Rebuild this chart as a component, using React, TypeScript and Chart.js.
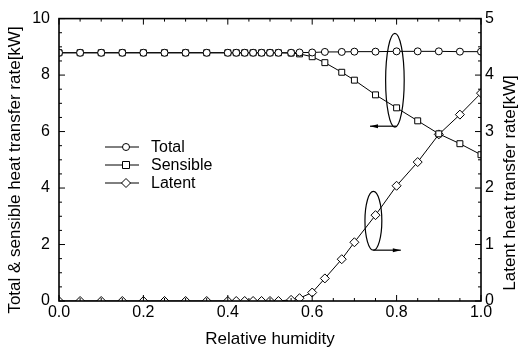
import React, { useEffect, useRef } from "react";
import { Chart, registerables } from "chart.js";

Chart.register(...registerables);

const humidity = [0, 0.05, 0.1, 0.15, 0.2, 0.25, 0.3, 0.35, 0.4, 0.42, 0.44, 0.46, 0.48, 0.5, 0.52, 0.55, 0.57, 0.6, 0.63, 0.67, 0.7, 0.75, 0.8, 0.85, 0.9, 0.95, 1.0];
const totalRate = [8.79, 8.79, 8.79, 8.79, 8.79, 8.79, 8.79, 8.79, 8.79, 8.79, 8.79, 8.79, 8.79, 8.79, 8.79, 8.79, 8.8, 8.8, 8.82, 8.82, 8.83, 8.83, 8.84, 8.84, 8.84, 8.83, 8.83];
const sensibleRate = [8.79, 8.79, 8.79, 8.79, 8.79, 8.79, 8.79, 8.79, 8.79, 8.79, 8.79, 8.79, 8.79, 8.79, 8.79, 8.78, 8.75, 8.65, 8.44, 8.1, 7.82, 7.3, 6.84, 6.38, 5.92, 5.57, 5.18];
const latentRate = [0, 0, 0, 0, 0, 0, 0, 0, 0, 0, 0, 0, 0, 0, 0, 0.02, 0.05, 0.15, 0.4, 0.74, 1.04, 1.52, 2.04, 2.46, 2.95, 3.3, 3.68];

const xTicks = [0, 0.2, 0.4, 0.6, 0.8, 1.0];
const leftTicks = [0, 2, 4, 6, 8, 10];
const rightTicks = [0, 1, 2, 3, 4, 5];
const seriesNames = ["Total", "Sensible", "Latent"];
const markerShapes = ["circle", "rect", "rectRot"];
const xTitle = "Relative humidity";
const leftTitle = "Total & sensible heat transfer rate[kW]";
const rightTitle = "Latent heat transfer rate[kW]";

const FONT = "'Liberation Sans', Arial, Helvetica, sans-serif";

function drawMarker(ctx: CanvasRenderingContext2D, shape: string, x: number, y: number) {
  ctx.save();
  ctx.fillStyle = "#fff";
  ctx.strokeStyle = "#000";
  ctx.lineWidth = 1;
  ctx.beginPath();
  if (shape === "circle") ctx.arc(x, y, 3.5, 0, Math.PI * 2);
  else if (shape === "rect") ctx.rect(x - 3.5, y - 3.5, 7, 7);
  else {
    ctx.moveTo(x, y - 4.5);
    ctx.lineTo(x + 4.5, y);
    ctx.lineTo(x, y + 4.5);
    ctx.lineTo(x - 4.5, y);
    ctx.closePath();
  }
  ctx.fill();
  ctx.stroke();
  ctx.restore();
}

const framePlugin = {
  id: "frameDecor",
  afterDraw(chart: any) {
    const ctx: CanvasRenderingContext2D = chart.ctx;
    const { left, right, top, bottom } = chart.chartArea;
    const xs = chart.scales.x;
    const yl = chart.scales.y;
    const yr = chart.scales.y2;
    ctx.save();
    ctx.strokeStyle = "#000";
    ctx.lineWidth = 1.6;
    ctx.strokeRect(left, top, right - left, bottom - top);
    ctx.lineWidth = 1;
    ctx.beginPath();
    for (let i = 0; i <= 20; i++) {
      const px = xs.getPixelForValue(i * 0.05);
      const len = i % 4 === 0 ? 6 : 3;
      ctx.moveTo(px, bottom);
      ctx.lineTo(px, bottom - len);
      ctx.moveTo(px, top);
      ctx.lineTo(px, top + len);
    }
    for (let i = 0; i <= 20; i++) {
      const py = yl.getPixelForValue(i * 0.5);
      const len = i % 4 === 0 ? 6 : 3;
      ctx.moveTo(left, py);
      ctx.lineTo(left + len, py);
    }
    for (let i = 0; i <= 20; i++) {
      const py = yr.getPixelForValue(i * 0.25);
      const len = i % 4 === 0 ? 6 : 3;
      ctx.moveTo(right, py);
      ctx.lineTo(right - len, py);
    }
    ctx.stroke();

    // annotations: ellipses and arrows
    const ellipse = (cx: number, cy: number, x1: number, y1: number) => {
      ctx.beginPath();
      ctx.ellipse(cx, cy, Math.abs(x1 - cx), Math.abs(y1 - cy), 0, 0, Math.PI * 2);
      ctx.stroke();
    };
    const arrow = (x0: number, y0: number, x1: number, y1: number) => {
      ctx.beginPath();
      ctx.moveTo(x0, y0);
      ctx.lineTo(x1, y1);
      ctx.stroke();
      const dir = Math.sign(x1 - x0);
      ctx.beginPath();
      ctx.moveTo(x1, y1);
      ctx.lineTo(x1 - dir * 8, y1 - 2);
      ctx.lineTo(x1 - dir * 8, y1 + 2);
      ctx.closePath();
      ctx.fillStyle = "#000";
      ctx.fill();
    };
    ctx.lineWidth = 1.2;
    const e1x = xs.getPixelForValue(0.796);
    const e1y = yl.getPixelForValue(7.82);
    const e1b = yl.getPixelForValue(6.19);
    ellipse(e1x, e1y, xs.getPixelForValue(0.818), yl.getPixelForValue(9.48));
    arrow(xs.getPixelForValue(0.8), e1b, xs.getPixelForValue(0.737), e1b);
    const e2x = xs.getPixelForValue(0.745);
    const e2y = yl.getPixelForValue(2.84);
    const e2b = yl.getPixelForValue(1.8);
    ellipse(e2x, e2y, xs.getPixelForValue(0.765), yl.getPixelForValue(3.88));
    arrow(e2x, e2b, xs.getPixelForValue(0.81), e2b);

    // legend
    ctx.font = `16px ${FONT}`;
    ctx.textBaseline = "middle";
    ctx.textAlign = "left";
    ctx.fillStyle = "#000";
    const rows = [147, 165, 183];
    seriesNames.forEach((name, i) => {
      const y = rows[i];
      ctx.beginPath();
      ctx.lineWidth = 1;
      ctx.strokeStyle = "#000";
      ctx.moveTo(left + 46, y);
      ctx.lineTo(left + 80, y);
      ctx.stroke();
      drawMarker(ctx, markerShapes[i], left + 67, y);
      ctx.fillText(name, left + 92, y + 1);
    });

    // axis titles
    ctx.font = `17px ${FONT}`;
    ctx.textAlign = "center";
    ctx.textBaseline = "middle";
    ctx.fillText(xTitle, (left + right) / 2, 339);
    ctx.save();
    ctx.translate(15, 170);
    ctx.rotate(-Math.PI / 2);
    ctx.fillText(leftTitle, 0, 0);
    ctx.restore();
    ctx.save();
    ctx.translate(510, 183);
    ctx.rotate(-Math.PI / 2);
    ctx.fillText(rightTitle, 0, 0);
    ctx.restore();
    ctx.restore();
  },
};

export default function App() {
  const ref = useRef<HTMLCanvasElement | null>(null);
  useEffect(() => {
    document.body.style.margin = "0";
    const canvas = ref.current;
    if (!canvas) return;
    const mk = (ys: number[]) => humidity.map((x, i) => ({ x, y: ys[i] }));
    const common = {
      showLine: true,
      borderColor: "#000",
      borderWidth: 1,
      pointBackgroundColor: "#fff",
      pointBorderColor: "#000",
      pointBorderWidth: 1,
    };
    const tickFont = { size: 16, family: FONT };
    const chart = new Chart(canvas, {
      type: "scatter",
      data: {
        datasets: [
          { ...common, label: seriesNames[0], data: mk(totalRate), yAxisID: "y", pointStyle: "circle", pointRadius: 3.5 },
          { ...common, label: seriesNames[1], data: mk(sensibleRate), yAxisID: "y", pointStyle: "rect", pointRadius: 4.2 },
          { ...common, label: seriesNames[2], data: mk(latentRate), yAxisID: "y2", pointStyle: "rectRot", pointRadius: 4.5 },
        ],
      },
      options: {
        animation: false,
        responsive: false,
        devicePixelRatio: 1,
        layout: { padding: { top: 12, left: 0, right: 0, bottom: 0 } },
        plugins: { legend: { display: false }, tooltip: { enabled: false } },
        scales: {
          x: {
            type: "linear",
            min: 0,
            max: 1,
            afterFit: (s: any) => { s.height = 48; },
            afterBuildTicks: (s: any) => { s.ticks = xTicks.map((v) => ({ value: v })); },
            grid: { display: false, drawTicks: false },
            border: { display: false },
            ticks: { color: "#000", font: tickFont, padding: 2, maxRotation: 0, callback: (v: any) => Number(v).toFixed(1) },
            title: { display: false },
          },
          y: {
            type: "linear",
            position: "left",
            min: 0,
            max: 10,
            afterFit: (s: any) => { s.width = 59; },
            afterBuildTicks: (s: any) => { s.ticks = leftTicks.map((v) => ({ value: v })); },
            grid: { display: false, drawTicks: false },
            border: { display: false },
            ticks: { color: "#000", font: tickFont, padding: 9 },
            title: { display: false },
          },
          y2: {
            type: "linear",
            position: "right",
            min: 0,
            max: 5,
            afterFit: (s: any) => { s.width = 40; },
            afterBuildTicks: (s: any) => { s.ticks = rightTicks.map((v) => ({ value: v })); },
            grid: { display: false, drawTicks: false },
            border: { display: false },
            ticks: { color: "#000", font: tickFont, padding: 4 },
            title: { display: false },
          },
        },
      } as any,
      plugins: [framePlugin],
    });
    return () => chart.destroy();
  }, []);
  return (
    <div style={{ width: 521, height: 349, background: "#fff" }}>
      <canvas ref={ref} width={521} height={349} style={{ display: "block", width: 521, height: 349 }} />
    </div>
  );
}
